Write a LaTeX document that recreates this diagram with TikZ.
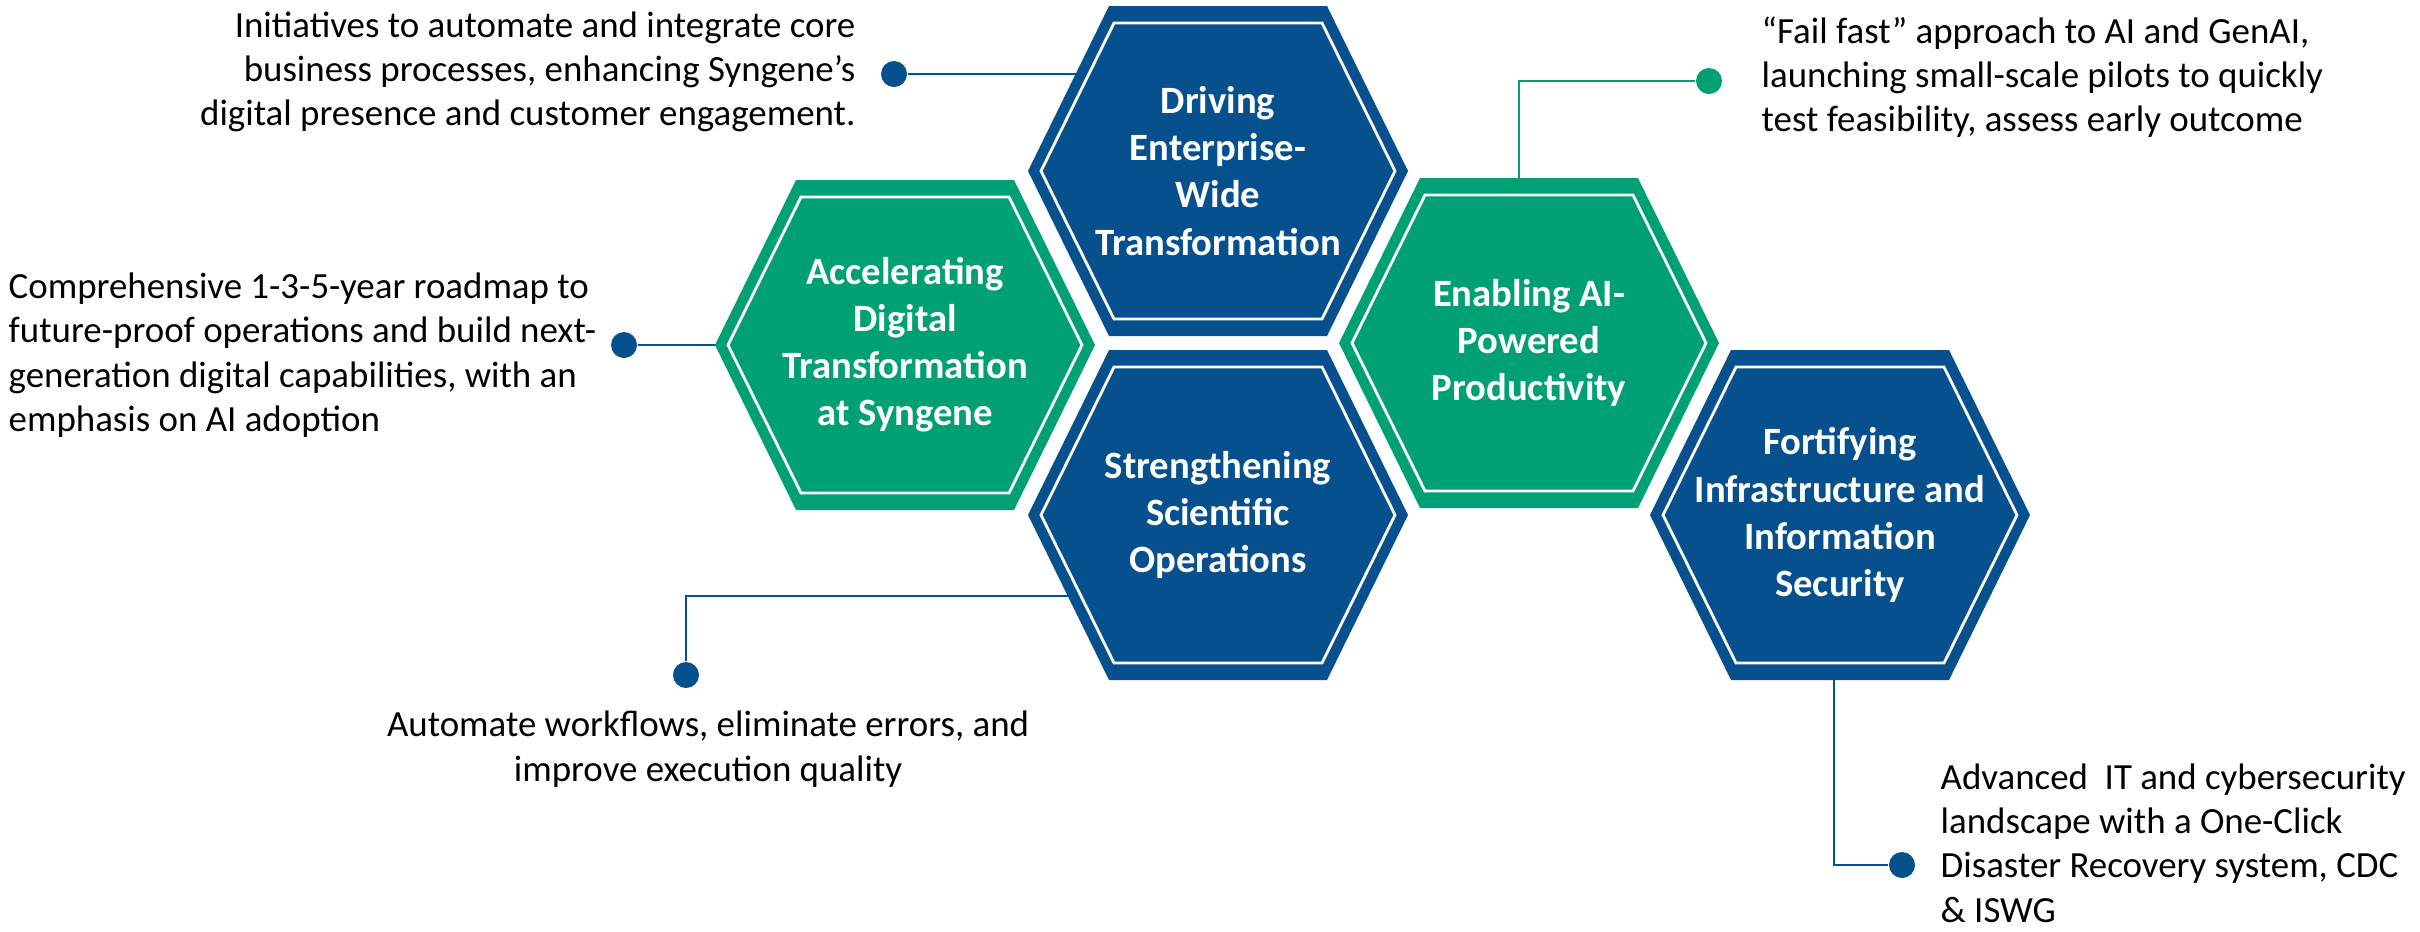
\documentclass[tikz,border=0pt]{standalone}
\usepackage{fontspec}
\setmainfont{Carlito}
\usetikzlibrary{backgrounds}
\definecolor{hexblue}{RGB}{6,80,141}
\definecolor{hexgreen}{RGB}{0,160,117}
\newcommand{\hexcell}[5]{%
	\fill[#4] (#2,#3) ++(-1.9,0) -- ++(0.81,1.65) -- ++(2.18,0) -- ++(0.81,-1.65) -- ++(-0.81,-1.65) -- ++(-2.18,0) -- cycle;
	\draw[white, line width=0.8pt] (#2,#3) ++(-1.77,0) -- ++(0.73,1.48) -- ++(2.08,0) -- ++(0.73,-1.48) -- ++(-0.73,-1.48) -- ++(-2.08,0) -- cycle;
	\node[hexlabel] (#1) at (#2,#3) {#5};
}

\begin{document}
\begin{tikzpicture}[hexlabel/.style={align=center, text=white, font=\fontsize{11}{13.4}\selectfont\bfseries, inner sep=0pt},
	note/.style={font=\fontsize{10.5}{12.6}\selectfont, inner sep=0pt},
	dot/.style={circle, inner sep=0pt, minimum size=0.26cm},
	link/.style={line width=0.6pt}]
	\useasboundingbox (0,0) rectangle (24.2,-9.31);
	\hexcell{acc}{9.05}{-3.45}{hexgreen}{Accelerating\\Digital\\Transformation\\at Syngene}
	\hexcell{drive}{12.18}{-1.71}{hexblue}{Driving\\Enterprise-\\Wide\\Transformation}
	\hexcell{sci}{12.18}{-5.15}{hexblue}{Strengthening\\Scientific\\Operations}
	\hexcell{ai}{15.29}{-3.43}{hexgreen}{Enabling AI-\\Powered\\Productivity}
	\hexcell{sec}{18.40}{-5.15}{hexblue}{Fortifying\\Infrastructure and\\Information\\Security}
	\node[note, anchor=east, align=right] (n-drive) at (8.56,-0.72) {Initiatives to automate and integrate core\\business processes, enhancing Syngene’s\\digital presence and customer engagement.};
	\node[dot, fill=hexblue] (d-drive) at (8.94,-0.74) {};
	\node[note, anchor=west, align=left] (n-acc) at (0.08,-3.55) {Comprehensive 1-3-5-year roadmap to\\future-proof operations and build next-\\generation digital capabilities, with an\\emphasis on AI adoption};
	\node[dot, fill=hexblue] (d-acc) at (6.24,-3.45) {};
	\node[note, anchor=west, align=left] (n-ai) at (17.61,-0.77) {“Fail fast” approach to AI and GenAI,\\launching small-scale pilots to quickly\\test feasibility, assess early outcome};
	\node[dot, fill=hexgreen] (d-ai) at (17.09,-0.81) {};
	\node[note, align=center] (n-sci) at (7.08,-7.49) {Automate workflows, eliminate errors, and\\improve execution quality};
	\node[dot, fill=hexblue] (d-sci) at (6.86,-6.75) {};
	\node[note, anchor=west, align=left] (n-sec) at (19.40,-8.43) {Advanced\ \ IT and cybersecurity\\landscape with a One-Click\\Disaster Recovery system, CDC\\\& ISWG};
	\node[dot, fill=hexblue] (d-sec) at (19.02,-8.65) {};
	\begin{pgfonlayer}{background}
		\draw[link, hexblue] (d-drive) -- (d-drive -| drive.center);
		\draw[link, hexblue] (d-acc) -- (d-acc -| acc.center);
		\draw[link, hexgreen] (d-ai) -| ([xshift=-0.1cm]ai.center);
		\draw[link, hexblue] (d-sci) |- ([yshift=-0.81cm]sci.center);
		\draw[link, hexblue] ([xshift=-0.06cm]sec.center) |- (d-sec);
	\end{pgfonlayer}
\end{tikzpicture}
\end{document}
